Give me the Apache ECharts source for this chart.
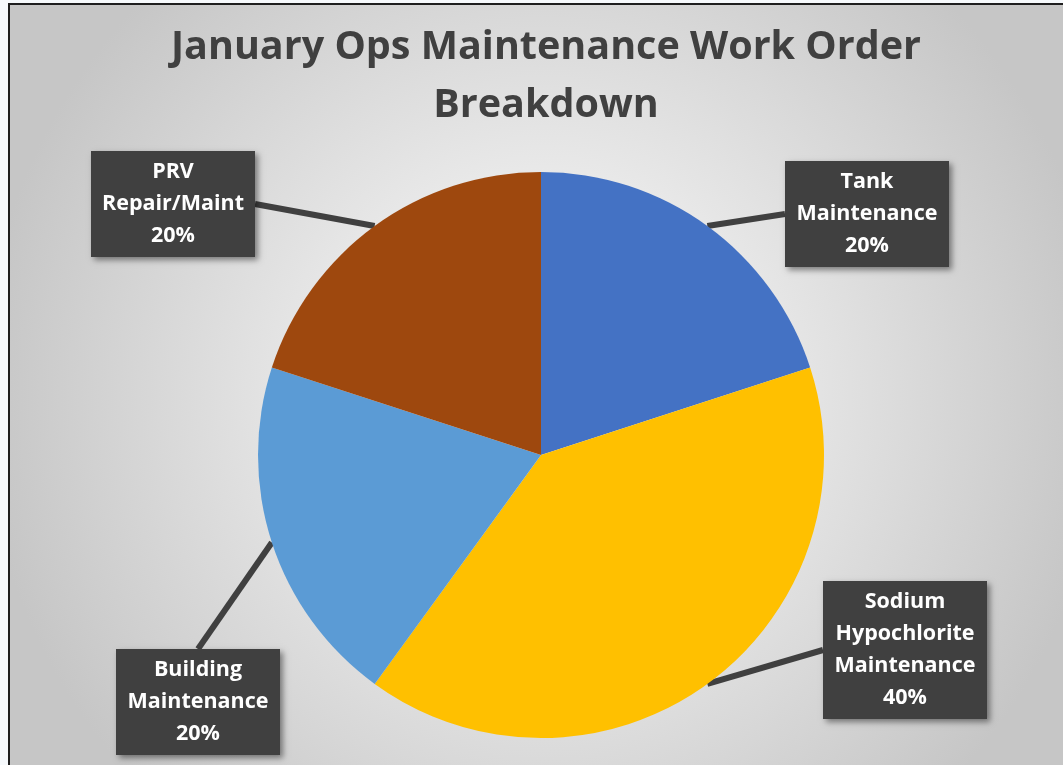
<!DOCTYPE html>
<html>
<head>
<meta charset="utf-8">
<script src="https://cdn.jsdelivr.net/npm/echarts@6/dist/echarts.min.js"></script>
<style>
  html, body { margin: 0; padding: 0; background: #f6f9fc; }
  #chart { width: 1063px; height: 765px; }
</style>
</head>
<body>
<div id="chart"></div>
<script>
// work order categories and their counts (shown as percentages)
const categories = ['Tank\nMaintenance', 'Sodium\nHypochlorite\nMaintenance', 'Building\nMaintenance', 'PRV\nRepair/Maint'];
const counts = [1, 2, 1, 1];
const colors = ['#4472C4', '#FFC000', '#5B9BD5', '#9E480E'];
// where each callout box sits (box centre, px)
const labelPos = [[867, 214], [905, 650], [198, 702], [173, 204]];

const chart = echarts.init(document.getElementById('chart'));

const option = {
  animation: false,
  title: {
    text: 'January Ops Maintenance Work Order\nBreakdown',
    left: 541,
    textAlign: 'center',
    top: 14,
    textStyle: {
      fontFamily: 'Open Sans',
      fontWeight: 'bold',
      fontSize: 39.5,
      lineHeight: 58,
      color: '#404040'
    }
  },
  graphic: [{
    type: 'rect',
    z: 0,
    silent: true,
    shape: { x: 9, y: 4, width: 1070, height: 780 },
    style: {
      fill: new echarts.graphic.RadialGradient(0.5, 0.5, 0.72, [
        { offset: 0, color: '#ffffff' },
        { offset: 1, color: '#c6c6c6' }
      ]),
      stroke: '#1e1e1e',
      lineWidth: 2
    }
  }],
  series: [{
    type: 'pie',
    center: [541, 455],
    radius: 283,
    startAngle: 90,
    clockwise: true,
    data: categories.map((c, i) => ({ name: c, value: counts[i], itemStyle: { color: colors[i] } })),
    label: {
      show: true,
      formatter: '{b}\n{d}%',
      color: '#ffffff',
      fontFamily: 'Open Sans',
      fontWeight: 'bold',
      fontSize: 21.5,
      lineHeight: 32,
      width: 152,
      align: 'center',
      backgroundColor: '#404040',
      padding: [5, 6],
      shadowBlur: 6,
      shadowColor: 'rgba(0,0,0,0.45)',
      shadowOffsetX: 3,
      shadowOffsetY: 3
    },
    labelLine: {
      show: true,
      length: 0,
      length2: 0,
      lineStyle: { color: '#404040', width: 6 }
    },
    labelLayout: function (params) {
      const p = labelPos[params.dataIndex];
      return { x: p[0], y: p[1], align: 'center', verticalAlign: 'middle' };
    },
    emphasis: { disabled: true }
  }]
};

chart.setOption(option);
</script>
</body>
</html>
